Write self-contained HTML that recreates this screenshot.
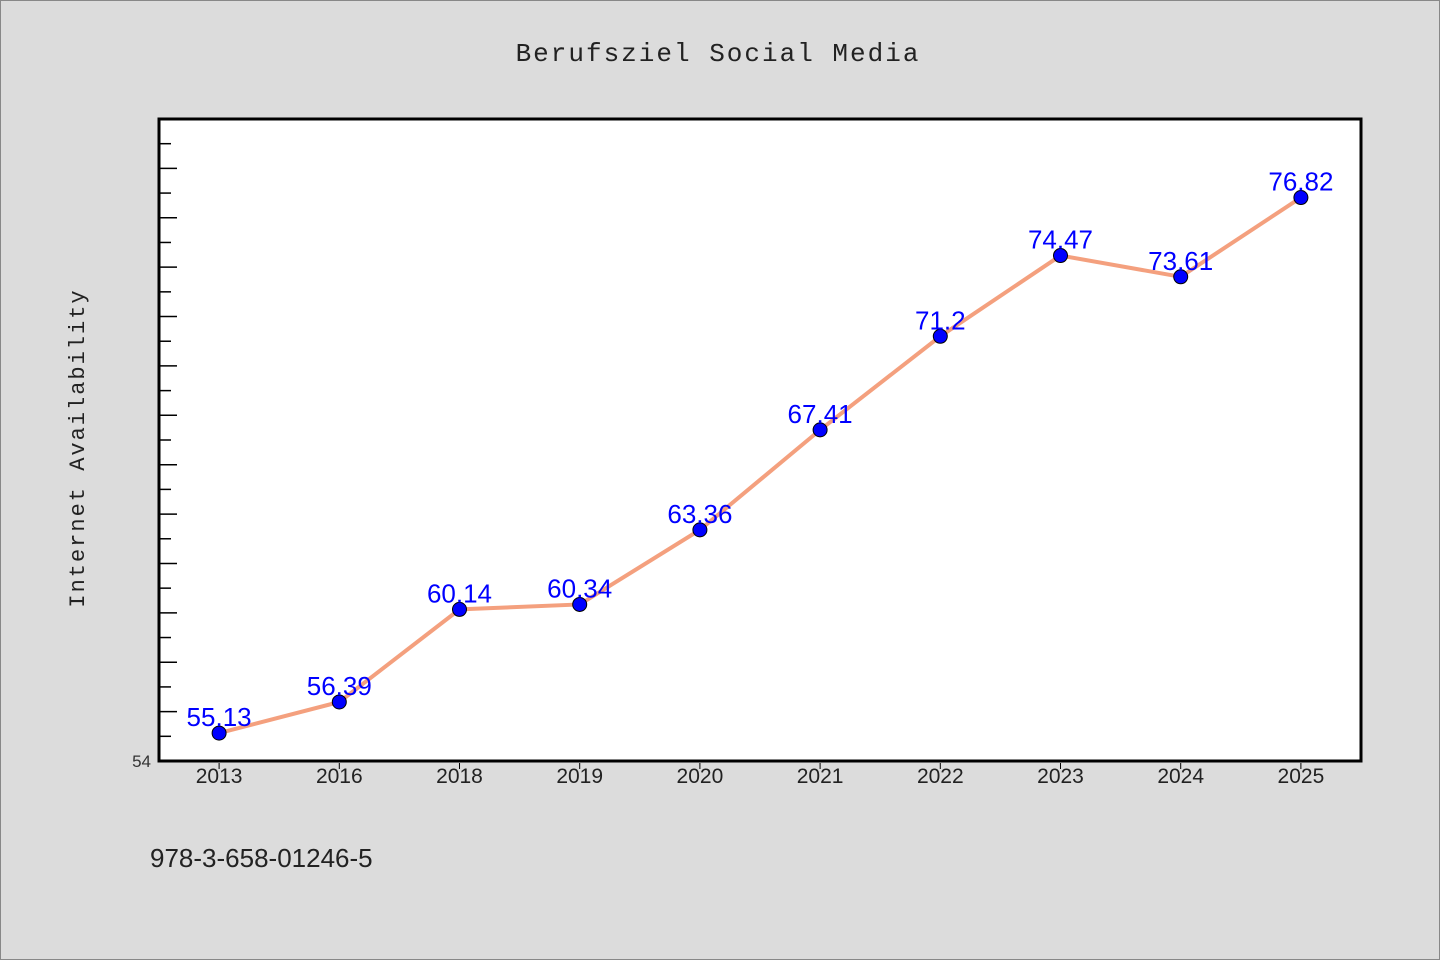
<!DOCTYPE html>
<html><head><meta charset="utf-8"><style>
body{margin:0;background:#dcdcdc;}
svg{display:block;font-family:"Liberation Sans","WenQuanYi Zen Hei",sans-serif;}
</style></head><body>
<svg width="1440" height="960">
<rect x="0.5" y="0.5" width="1439" height="959" fill="#dcdcdc" stroke="#888"/>
<text x="718" y="61" text-anchor="middle" font-size="26" fill="#222" letter-spacing="2" font-family="'WenQuanYi Zen Hei','Liberation Mono',monospace">Berufsziel Social Media</text>
<rect x="159" y="119" width="1202" height="642" fill="#fff" stroke="#000" stroke-width="3"/>
<text transform="translate(84,448) rotate(-90)" text-anchor="middle" font-size="22" fill="#222" letter-spacing="2" font-family="'WenQuanYi Zen Hei','Liberation Mono',monospace">Internet Availability</text>
<text x="150" y="867" font-size="26" fill="#222" font-family="'WenQuanYi Zen Hei','Liberation Sans',sans-serif">978-3-658-01246-5</text>
<g id="ticks"></g><g id="xl"></g><g id="series"></g>
</svg>
<script>
const categories=["2013","2016","2018","2019","2020","2021","2022","2023","2024","2025"];
const values=[55.13,56.39,60.14,60.34,63.36,67.41,71.2,74.47,73.61,76.82];
const labels=["55.13","56.39","60.14","60.34","63.36","67.41","71.2","74.47","73.61","76.82"];
const yMin=54,yMax=80;
const L=159,R=1361,T=119,B=761;
const ns="http://www.w3.org/2000/svg";
const y=v=>B-(v-yMin)/(yMax-yMin)*(B-T);
const bw=(R-L)/categories.length;
const x=i=>L+bw*(i+0.5);
function mk(t,a,p){const e=document.createElementNS(ns,t);for(const k in a)e.setAttribute(k,a[k]);p.appendChild(e);return e;}
const tk=document.getElementById('ticks');
for(let v=yMin+1;v<yMax;v++){const l=mk('line',{x1:L,x2:L+(v%2==0?18:12),y1:y(v),y2:y(v),stroke:'#000','stroke-width':1.5},tk);

}
const t54=mk('text',{x:L-8,y:B+6,'text-anchor':'end','font-size':17,fill:'#333'},tk);t54.textContent=String(yMin);


const xl=document.getElementById('xl');
categories.forEach((c,i)=>{const l=mk('line',{x1:x(i),x2:x(i),y1:B+2,y2:B+8,stroke:'#000'},xl);


const t=mk('text',{x:x(i),y:B+22,'text-anchor':'middle','font-size':21,fill:'#222'},xl);t.textContent=c;

});
const s=document.getElementById('series');
const pl=mk('polyline',{points:values.map((v,i)=>x(i)+','+y(v)).join(' '),fill:'none',stroke:'#f4a07e','stroke-width':4},s);


values.forEach((v,i)=>{const c=mk('circle',{cx:x(i),cy:y(v),r:7,fill:'#0000ff',stroke:'#000','stroke-width':1},s);


const t=mk('text',{x:x(i),y:y(v)-7,'text-anchor':'middle','font-size':26,fill:'#0000ff'},s);t.textContent=labels[i];

});
</script>
</body></html>
